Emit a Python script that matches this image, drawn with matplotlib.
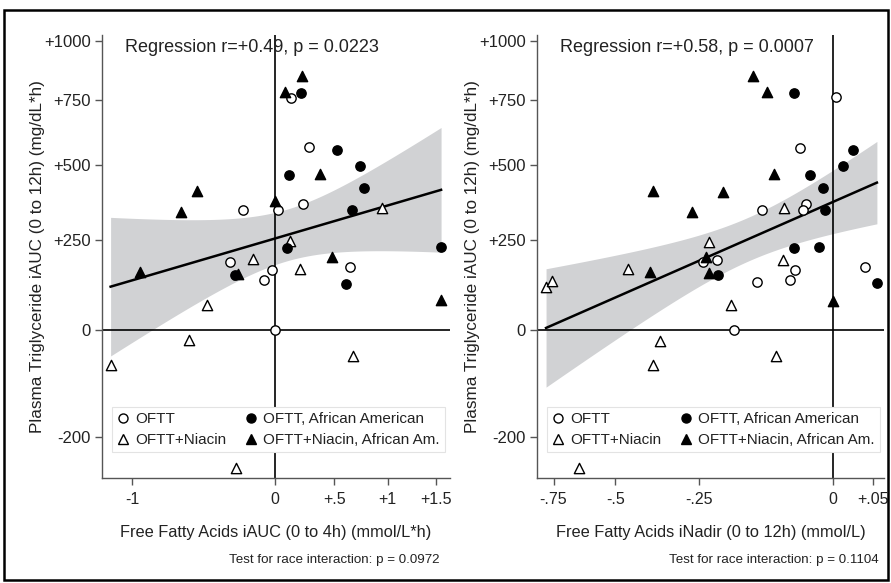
import numpy as np
import matplotlib
matplotlib.use('Agg')
import matplotlib.pyplot as plt
from matplotlib.patches import Rectangle
from matplotlib.lines import Line2D

plt.rcParams['font.family'] = ['Liberation Sans', 'DejaVu Sans']

# ---- data: left panel, FFA iAUC (0 to 4h) vs TG iAUC (0 to 12h)
auc_oftt_x = [0.127, 0.283, -0.250, 0.026, 0.232, -0.344, -0.026, 0.642, -0.085, 0.0]
auc_oftt_y = [758, 566, 345, 344, 366, 182, 159, 168, 131, 0]
auc_oftt_aa_x = [0.213, 0.521, 0.735, 0.116, 0.772, 0.658, 0.094, 1.553, -0.307, 0.606]
auc_oftt_aa_y = [778, 555, 496, 466, 421, 345, 224, 226, 146, 120]
auc_niacin_x = [0.942, 0.121, -0.174, 0.204, -0.507, -0.633, 0.672, -1.128, -0.300]
auc_niacin_y = [350, 244, 190, 163, 64, -22, -59, -77, -233]
auc_niacin_aa_x = [0.223, 0.081, 0.374, -0.580, 0.0, -0.687, -0.951, 0.482, -0.283, 1.553]
auc_niacin_aa_y = [848, 783, 469, 408, 374, 339, 154, 198, 148, 75]

# ---- data: right panel, FFA iNadir (0 to 12h) vs TG iAUC (0 to 12h)
nad_oftt_x = [0.004, -0.049, -0.115, -0.040, -0.044, -0.242, -0.209, -0.058, -0.065, -0.125, 0.041, -0.172]
nad_oftt_y = [760, 563, 345, 366, 345, 182, 187, 159, 131, 124, 168, 0]
nad_oftt_aa_x = [-0.059, 0.026, 0.013, -0.033, -0.015, -0.012, -0.059, -0.020, -0.205, 0.055]
nad_oftt_aa_y = [778, 556, 496, 466, 421, 345, 224, 226, 146, 121]
nad_niacin_x = [-0.075, -0.227, -0.078, -0.457, -0.785, -0.759, -0.178, -0.356, -0.089, -0.376, -0.639]
nad_niacin_y = [350, 243, 188, 162, 112, 128, 62, -24, -59, -77, -233]
nad_niacin_aa_x = [-0.132, -0.105, -0.094, -0.377, -0.195, -0.268, -0.235, -0.227, -0.385, 0.0]
nad_niacin_aa_y = [848, 783, 469, 408, 404, 337, 198, 149, 154, 73]

y_ticks = [-200, 0, 250, 500, 750, 1000]
y_ticklabels = ['-200', '0', '+250', '+500', '+750', '+1000']
auc_ticks = [-1, 0, 0.5, 1, 1.5]
auc_ticklabels = ['-1', '0', '+.5', '+1', '+1.5']
nad_ticks = [-0.75, -0.5, -0.25, 0, 0.05]
nad_ticklabels = ['-.75', '-.5', '-.25', '0', '+.05']

legend_labels = ['OFTT', 'OFTT+Niacin', 'OFTT, African American', 'OFTT+Niacin, African Am.']


# axis transforms (the chart uses compressed, non-linear axes)
def y_fwd(y):
    return np.clip(np.asarray(y, float) + 250, 1e-9, None) ** 0.62

def y_inv(v):
    return np.clip(np.asarray(v, float), 0, None) ** (1 / 0.62) - 250

def auc_fwd(x):
    return np.log(np.clip(np.asarray(x, float) + 4.25, 1e-9, None))

def auc_inv(u):
    return np.exp(u) - 4.25

def nad_fwd(x):
    return -np.log(np.clip(0.32 - np.asarray(x, float), 1e-9, None))

def nad_inv(u):
    return 0.32 - np.exp(-np.asarray(u, float))


def draw_panel(ax, groups, fx, ix, xticks, xticklabels, xlim, xlabel, reg_text, test_text, test_x):
    ax.set_xscale('function', functions=(fx, ix))
    ax.set_yscale('function', functions=(y_fwd, y_inv))

    # regression with 95% CI, computed on the transformed axes
    xs = np.concatenate([np.asarray(g[0], float) for g in groups])
    ys = np.concatenate([np.asarray(g[1], float) for g in groups])
    u = fx(xs)
    v = y_fwd(ys)
    n = len(u)
    b, a = np.polyfit(u, v, 1)
    s = np.sqrt(np.sum((v - (a + b * u)) ** 2) / (n - 2))
    uu = np.linspace(u.min(), u.max(), 200)
    vv = a + b * uu
    se = s * np.sqrt(1 / n + (uu - u.mean()) ** 2 / np.sum((u - u.mean()) ** 2))
    tcrit = 2.03
    ax.fill_between(ix(uu), y_inv(vv - tcrit * se), y_inv(vv + tcrit * se),
                    color='#d1d2d4', lw=0, zorder=1)
    ax.plot(ix(uu), y_inv(vv), color='black', lw=1.8, zorder=3)

    ax.axhline(0, color='black', lw=1.2, zorder=2)
    ax.axvline(0, color='black', lw=1.2, zorder=2)

    styles = [('o', 'white', 45), ('^', 'white', 55), ('o', 'black', 45), ('^', 'black', 55)]
    for (gx, gy), (m, fc, sz) in zip(groups, styles):
        ax.scatter(gx, gy, marker=m, s=sz, facecolor=fc, edgecolor='black', linewidth=1.0, zorder=4)

    ax.set_xlim(*xlim)
    ax.set_ylim(-241, 1025)
    ax.set_xticks(xticks)
    ax.set_xticklabels(xticklabels)
    ax.set_yticks(y_ticks)
    ax.set_yticklabels(y_ticklabels)
    ax.minorticks_off()

    for side in ['top', 'right']:
        ax.spines[side].set_visible(False)
    for side in ['left', 'bottom']:
        ax.spines[side].set_color('#555555')
        ax.spines[side].set_linewidth(1.0)
    ax.tick_params(direction='out', length=5, width=1, color='#555555', labelcolor='#222222')
    ax.tick_params(axis='y', labelsize=12, pad=3)
    ax.tick_params(axis='x', labelsize=11.5, pad=5)

    ax.set_xlabel(xlabel, fontsize=11.8, color='#222222', labelpad=13)
    ax.set_ylabel('Plasma Triglyceride iAUC (0 to 12h) (mg/dL*h)', fontsize=12.3, color='#222222')
    ax.yaxis.set_label_coords(-0.165, 0.5)

    ax.text(0.065, 0.972, reg_text, transform=ax.transAxes, fontsize=13,
            ha='left', va='center', color='#222222')
    ax.text(test_x, -0.185, test_text, transform=ax.transAxes, fontsize=9.6,
            ha='right', va='center', color='#222222')

    handles = []
    for (m, fc, sz) in styles:
        handles.append(Line2D([], [], marker=m, linestyle='none', markersize=6.5 if m == 'o' else 7,
                              markerfacecolor=fc, markeredgecolor='black', markeredgewidth=1.0))
    leg = ax.legend(handles, legend_labels, ncol=2, loc='lower left',
                    bbox_to_anchor=(0.028, 0.058), fontsize=11, frameon=True,
                    fancybox=False, framealpha=1, edgecolor='#e3e3e3',
                    handlelength=0.8, handletextpad=0.4, columnspacing=1.2,
                    borderpad=0.35, labelspacing=0.45, borderaxespad=0)
    leg.get_frame().set_linewidth(0.8)
    for t in leg.get_texts():
        t.set_color('#222222')


fig = plt.figure(figsize=(8.91, 5.83), dpi=100)
ax1 = fig.add_axes([102 / 891, 1 - 478 / 583, 348 / 891, 443 / 583])
ax2 = fig.add_axes([537 / 891, 1 - 478 / 583, 347 / 891, 443 / 583])

draw_panel(ax1,
           [(auc_oftt_x, auc_oftt_y), (auc_niacin_x, auc_niacin_y),
            (auc_oftt_aa_x, auc_oftt_aa_y), (auc_niacin_aa_x, auc_niacin_aa_y)],
           auc_fwd, auc_inv, auc_ticks, auc_ticklabels, (-1.178, 1.651),
           'Free Fatty Acids iAUC (0 to 4h) (mmol/L*h)',
           'Regression r=+0.49, p = 0.0223',
           'Test for race interaction: p = 0.0972', 0.971)

draw_panel(ax2,
           [(nad_oftt_x, nad_oftt_y), (nad_niacin_x, nad_niacin_y),
            (nad_oftt_aa_x, nad_oftt_aa_y), (nad_niacin_aa_x, nad_niacin_aa_y)],
           nad_fwd, nad_inv, nad_ticks, nad_ticklabels, (-0.829, 0.063),
           'Free Fatty Acids iNadir (0 to 12h) (mmol/L)',
           'Regression r=+0.58, p = 0.0007',
           'Test for race interaction: p = 0.1104', 0.985)

# outer frame around the whole figure
fig.patches.append(Rectangle((4 / 891, 3 / 583), 884 / 891, 570 / 583, transform=fig.transFigure,
                             fill=False, edgecolor='black', linewidth=1.8))

fig.savefig('out.png', dpi=100)
